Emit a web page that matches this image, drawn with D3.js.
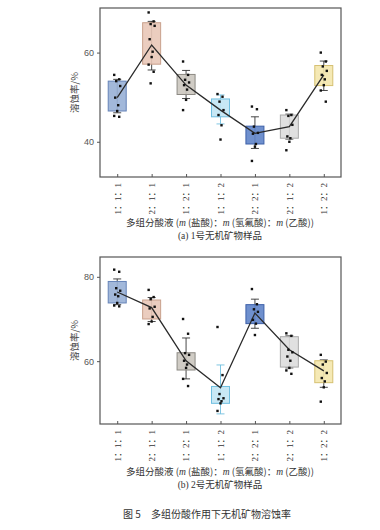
<!DOCTYPE html>
<html><head><meta charset="utf-8">
<script src="https://cdn.jsdelivr.net/npm/d3@7"></script>
<style>body{margin:0;background:#fff}svg{display:block}</style>
</head><body>
<script>
const categories = ["1：1：1","2：1：1","1：2：1","1：1：2","2：2：1","2：1：2","1：2：2"];
const fillColors = ["#98b0d6","#e9c8b8","#cbc7bf","#c2e5f4","#5f84c9","#dddddd","#f4e7ad"];
const strokeColors = ["#6583b8","#c9a08c","#8d8a84","#70bfe0","#3d60a8","#a9a9a9","#d6c172"];
const yTicksA = [40, 60];
const yTicksB = [60, 80];

// panel (a): 1号无机矿物样品
const meanA = [49.9, 61.7, 52.7, 47.1, 41.9, 43.4, 55.0];
const q1A = [46.9, 57.4, 50.6, 45.6, 39.5, 40.8, 52.6];
const q3A = [53.6, 66.7, 55.1, 49.6, 43.5, 46.0, 57.1];
const lowA = [46.5, 56.1, 49.7, 44.0, 38.5, 40.6, 51.5];
const highA = [54.0, 67.0, 56.0, 50.5, 45.6, 46.2, 58.1];
const pointsA = [
  [55.0, 54.0, 53.6, 52.5, 49.9, 48.2, 46.9, 45.8, 45.6],
  [69.0, 67.0, 66.4, 66.0, 63.0, 60.2, 59.0, 57.3, 55.7, 53.1],
  [58.0, 55.0, 53.9, 53.3, 52.7, 51.7, 49.4, 47.1],
  [50.7, 50.1, 49.0, 47.1, 46.0, 43.7, 40.5],
  [47.9, 47.3, 43.4, 42.0, 41.8, 39.5, 38.9, 35.7],
  [47.1, 46.0, 45.8, 43.8, 41.2, 40.8, 40.0, 38.1],
  [60.0, 58.0, 56.9, 55.9, 55.0, 54.0, 52.7, 51.5, 49.0]
];

// panel (b): 2号无机矿物样品
const meanB = [76.4, 72.7, 60.1, 53.7, 71.4, 62.7, 57.7];
const q1B = [73.8, 70.0, 57.9, 50.0, 68.9, 58.6, 54.9];
const q3B = [78.9, 74.5, 62.0, 54.0, 73.4, 65.8, 60.1];
const lowB = [73.4, 69.4, 55.8, 47.5, 67.8, 58.4, 53.8];
const highB = [79.5, 75.1, 65.5, 59.1, 74.7, 66.0, 60.3];
const pointsB = [
  [81.7, 81.2, 77.3, 76.7, 75.8, 75.4, 73.8, 73.2, 73.0],
  [76.9, 75.2, 74.7, 72.9, 72.5, 70.5, 69.4, 68.8],
  [70.0, 66.5, 61.9, 61.5, 60.1, 59.2, 58.4, 55.8, 54.1],
  [68.1, 56.7, 52.2, 51.2, 51.0, 50.5, 50.0, 48.2],
  [77.1, 73.5, 72.3, 71.7, 69.8, 68.9, 66.2],
  [66.6, 66.0, 62.7, 62.1, 61.1, 60.1, 58.4, 57.8, 57.0],
  [61.5, 59.9, 59.2, 57.2, 56.0, 55.2, 53.8, 50.4]
];

const W = 380, H = 530;
const svg = d3.select("body").append("svg").attr("width", W).attr("height", H);
const left = 100, right = 341;
const x = d3.scalePoint().domain(categories).range([left, right]).padding(0.5);
const boxW = 18;
const jitter = [-3, 2, -1, 3, -2, 1, 0, -3, 2, -1];
const cjk = "'Noto Sans CJK SC', sans-serif";
const latin = "'Liberation Serif', 'Noto Sans CJK SC', serif";

const panels = [
  {top: 8, bottom: 177, dom: [32.1, 70], ticks: yTicksA, mean: meanA, q1: q1A, q3: q3A, low: lowA, high: highA, pts: pointsA, cap: "(a) 1号无机矿物样品", titleY: 226, capY: 239},
  {top: 257, bottom: 424, dom: [45.1, 84.7], ticks: yTicksB, mean: meanB, q1: q1B, q3: q3B, low: lowB, high: highB, pts: pointsB, cap: "(b) 2号无机矿物样品", titleY: 475, capY: 488}
];

panels.forEach(p => {
  const y = d3.scaleLinear().domain(p.dom).range([p.bottom, p.top]);
  const g = svg.append("g");
  categories.forEach((c, i) => {
    const cx = x(c);
    const sc = strokeColors[i];
    const wc = (i === 3) ? sc : "#333";
    g.append("line").attr("x1", cx).attr("x2", cx).attr("y1", y(p.high[i])).attr("y2", y(p.low[i]))
      .attr("stroke", wc).attr("stroke-width", 0.9);
    [p.high[i], p.low[i]].forEach(v => {
      g.append("line").attr("x1", cx - 4).attr("x2", cx + 4).attr("y1", y(v)).attr("y2", y(v))
        .attr("stroke", wc).attr("stroke-width", 0.9);
    });
    g.append("rect").attr("x", cx - boxW / 2).attr("width", boxW)
      .attr("y", y(p.q3[i])).attr("height", y(p.q1[i]) - y(p.q3[i]))
      .attr("fill", fillColors[i]).attr("fill-opacity", 0.9).attr("stroke", sc).attr("stroke-width", 1);
  });
  const line = d3.line().x((d, i) => x(categories[i])).y(d => y(d));
  g.append("path").datum(p.mean).attr("d", line).attr("fill", "none").attr("stroke", "#2a2a2a").attr("stroke-width", 1.3);
  p.pts.forEach((arr, i) => {
    g.selectAll(null).data(arr).enter().append("rect")
      .attr("x", (d, j) => x(categories[i]) + jitter[j % jitter.length] - 1.2)
      .attr("y", d => y(d) - 1.2).attr("width", 2.4).attr("height", 2.4)
      .attr("fill", "#111");
  });
  g.append("rect").attr("x", left).attr("y", p.top).attr("width", right - left).attr("height", p.bottom - p.top)
    .attr("fill", "none").attr("stroke", "#555").attr("stroke-width", 1.2);
  const ya = d3.axisLeft(y).tickValues(p.ticks).tickSize(3).tickPadding(3);
  const yg = svg.append("g").attr("transform", `translate(${left},0)`).call(ya);
  yg.select(".domain").remove();
  yg.selectAll("line").attr("stroke", "#555");
  yg.selectAll("text").attr("fill", "#555").style("font-family", "'Liberation Sans', Arial, sans-serif").style("font-size", "9px");
  const xa = d3.axisBottom(x).tickSize(-3).tickPadding(5);
  const xg = svg.append("g").attr("transform", `translate(0,${p.bottom})`).call(xa);
  xg.select(".domain").remove();
  xg.selectAll("line").attr("stroke", "#555");
  xg.selectAll("text").attr("fill", "#333").style("font-family", latin).style("font-size", "9px")
    .attr("transform", "rotate(-90)").attr("text-anchor", "end").attr("dy", "0.32em").attr("x", -6).attr("y", 0);
  svg.append("text").attr("transform", `translate(78,${(p.top + p.bottom) / 2}) rotate(-90)`)
    .attr("text-anchor", "middle").attr("fill", "#444").style("font-family", cjk).style("font-size", "9.5px")
    .text("溶蚀率/%");
  const t = svg.append("text").attr("x", 220).attr("y", p.titleY).attr("text-anchor", "middle")
    .attr("fill", "#333").style("font-family", cjk).style("font-size", "9.5px");
  t.append("tspan").text("多组分酸液 (");
  t.append("tspan").style("font-style", "italic").style("font-family", latin).text("m");
  t.append("tspan").text(" (盐酸)：");
  t.append("tspan").style("font-style", "italic").style("font-family", latin).text("m");
  t.append("tspan").text(" (氢氟酸)：");
  t.append("tspan").style("font-style", "italic").style("font-family", latin).text("m");
  t.append("tspan").text(" (乙酸))");
  svg.append("text").attr("x", 220).attr("y", p.capY).attr("text-anchor", "middle")
    .attr("fill", "#333").style("font-family", latin).style("font-size", "9.5px").text(p.cap);
});

svg.append("text").attr("x", 207).attr("y", 518).attr("text-anchor", "middle")
  .attr("fill", "#333").style("font-family", cjk).style("font-size", "10px")
  .text("图 5\u2003多组份酸作用下无机矿物溶蚀率");
</script>
</body></html>
